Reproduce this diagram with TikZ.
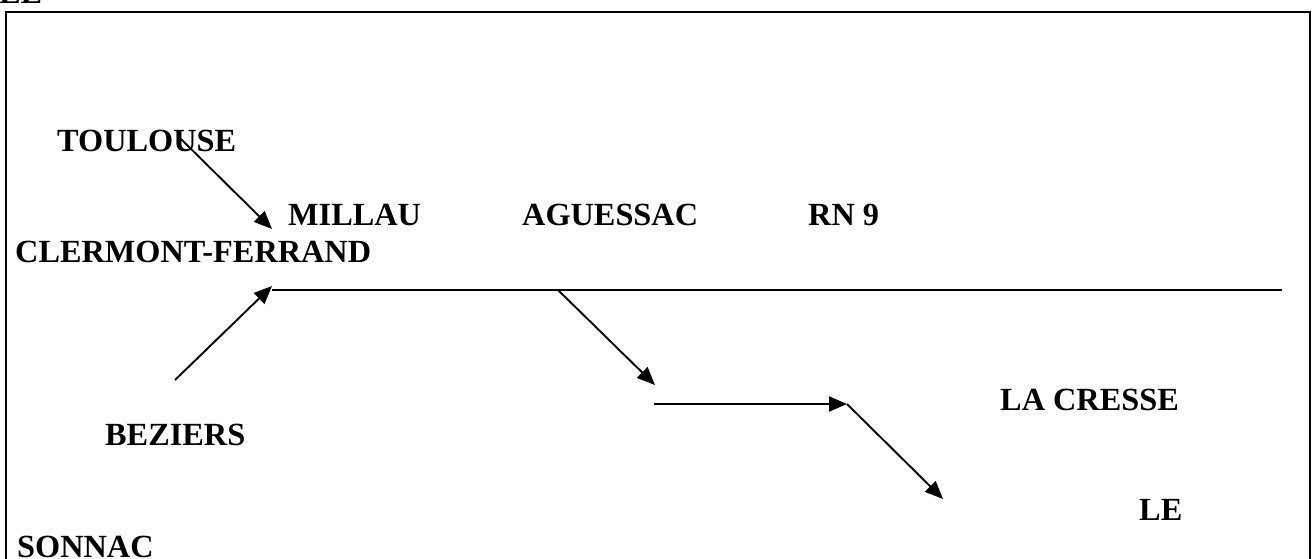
\documentclass[tikz,border=0pt]{standalone}
\usepackage{fontspec}
\setmainfont{Liberation Serif}
\usetikzlibrary{arrows.meta}
\begin{document}
\begin{tikzpicture}[x=1pt,y=-1pt,
  lbl/.style={anchor=base west,inner sep=0pt,font=\fontsize{32.3}{36}\selectfont\bfseries},
  road/.style={line width=1.9pt},
  arr/.style={road,-{Triangle[length=18pt,width=15pt]}},
  frame/.style={line width=2.6pt}]
\useasboundingbox (0,0) rectangle (1314,559);
\clip (0,0) rectangle (1314,559);
\fill[white] (0,0) rectangle (1314,559);
\draw[frame] (6,12) rectangle (1310,600);
% labels
\node[lbl] (le1) at (-1,4) {LE};
\node[lbl] (toulouse) at (57,152) {TOULOUSE};
\node[lbl] (millau) at (288,225) {MILLAU};
\node[lbl] (aguessac) at (522,225) {AGUESSAC};
\node[lbl] (rn9) at (808,225) {RN 9};
\node[lbl] (clermont) at (15,262) {CLERMONT-FERRAND};
\node[lbl] (beziers) at (105,445) {BEZIERS};
\node[lbl] (sonnac) at (17,557) {SONNAC};
\node[lbl] (lacresse) at (1000,410) {LA CRESSE};
\node[lbl] (le2) at (1139,520) {LE};
% connector points
\coordinate (t0) at (181,139);
\coordinate (t1) at (272,229);
\coordinate (b0) at (175,380);
\coordinate (b1) at (272,286);
\coordinate (h0) at (272,290);
\coordinate (h1) at (1282,290);
\coordinate (d0) at (558,290);
\coordinate (d1) at (655,385);
\coordinate (m0) at (654,404);
\coordinate (m1) at (847,404);
\coordinate (e1) at (943,499);
% connectors
\draw[arr] (t0) -- (t1);
\draw[arr] (b0) -- (b1);
\draw[road] (h0) -- (h1);
\draw[arr] (d0) -- (d1);
\draw[arr] (m0) -- (m1);
\draw[arr] (m1) -- (e1);
\end{tikzpicture}
\end{document}
